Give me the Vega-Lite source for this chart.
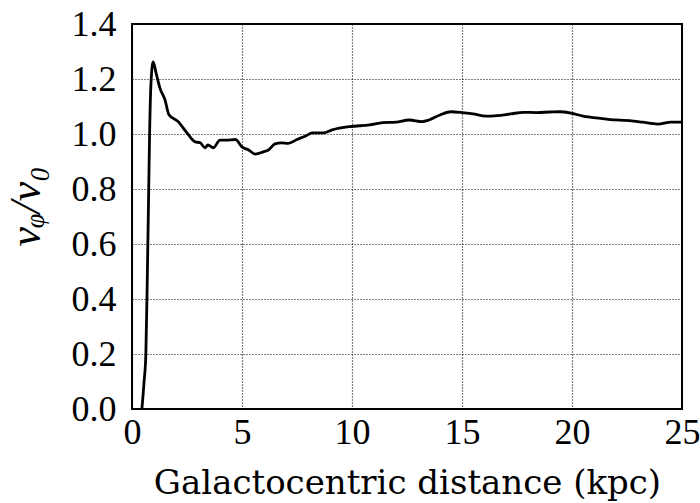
{
  "$schema": "https://vega.github.io/schema/vega-lite/v6.json",
  "width": 550,
  "height": 385,
  "autosize": {"type": "none"},
  "padding": {"left": 132, "top": 24, "right": 18, "bottom": 94},
  "background": "white",
  "config": {
    "view": {"stroke": "black", "strokeWidth": 2},
    "font": "Liberation Serif"
  },
  "data": {
    "values": [
      {"r": 0.45, "v": 0.0},
      {"r": 0.55, "v": 0.1},
      {"r": 0.63, "v": 0.2},
      {"r": 0.7, "v": 0.5},
      {"r": 0.76, "v": 0.8},
      {"r": 0.8, "v": 1.0},
      {"r": 0.86, "v": 1.18},
      {"r": 0.96, "v": 1.262},
      {"r": 1.1, "v": 1.22},
      {"r": 1.27, "v": 1.167},
      {"r": 1.5, "v": 1.124},
      {"r": 1.68, "v": 1.07},
      {"r": 2.1, "v": 1.045},
      {"r": 2.5, "v": 1.004},
      {"r": 2.86, "v": 0.972},
      {"r": 3.1, "v": 0.968},
      {"r": 3.32, "v": 0.95},
      {"r": 3.45, "v": 0.96},
      {"r": 3.7, "v": 0.95},
      {"r": 4.0, "v": 0.978},
      {"r": 4.3, "v": 0.978},
      {"r": 4.7, "v": 0.98},
      {"r": 5.0, "v": 0.953},
      {"r": 5.3, "v": 0.942},
      {"r": 5.6, "v": 0.927},
      {"r": 5.97, "v": 0.935},
      {"r": 6.2, "v": 0.942},
      {"r": 6.5, "v": 0.964},
      {"r": 6.8, "v": 0.968},
      {"r": 7.1, "v": 0.966},
      {"r": 7.5, "v": 0.98},
      {"r": 7.9, "v": 0.993},
      {"r": 8.2, "v": 1.004},
      {"r": 8.7, "v": 1.004},
      {"r": 9.1, "v": 1.015},
      {"r": 9.9, "v": 1.027},
      {"r": 10.8, "v": 1.033},
      {"r": 11.4, "v": 1.041},
      {"r": 12.0, "v": 1.043},
      {"r": 12.6, "v": 1.051},
      {"r": 13.2, "v": 1.045},
      {"r": 13.5, "v": 1.051},
      {"r": 14.0, "v": 1.069},
      {"r": 14.5, "v": 1.081},
      {"r": 15.0, "v": 1.078},
      {"r": 15.5, "v": 1.073},
      {"r": 16.1, "v": 1.065},
      {"r": 16.6, "v": 1.067},
      {"r": 17.2, "v": 1.073},
      {"r": 17.8, "v": 1.079},
      {"r": 18.4, "v": 1.078},
      {"r": 19.0, "v": 1.08},
      {"r": 19.45, "v": 1.081},
      {"r": 20.0, "v": 1.075},
      {"r": 20.5, "v": 1.065},
      {"r": 21.3, "v": 1.057},
      {"r": 22.0, "v": 1.051},
      {"r": 22.8, "v": 1.047},
      {"r": 23.2, "v": 1.043},
      {"r": 23.9, "v": 1.036},
      {"r": 24.5, "v": 1.043},
      {"r": 25.0, "v": 1.043}
    ]
  },
  "mark": {"type": "line", "color": "black", "strokeWidth": 2.8, "interpolate": "monotone", "clip": true},
  "encoding": {
    "x": {
      "field": "r", "type": "quantitative",
      "scale": {"domain": [0, 25], "nice": false, "zero": false},
      "axis": {
        "values": [0, 5, 10, 15, 20, 25],
        "title": "Galactocentric distance (kpc)",
        "titleFont": "DejaVu Serif", "titleFontSize": 34, "titleFontWeight": "normal",
        "titleColor": "black", "titlePadding": 16,
        "labelFont": "Liberation Serif", "labelFontSize": 36, "labelColor": "black",
        "labelPadding": 6, "labelFlush": false,
        "domain": false, "ticks": false,
        "grid": true, "gridColor": "black", "gridDash": [1, 2], "gridWidth": 1.2, "gridOpacity": 1
      }
    },
    "y": {
      "field": "v", "type": "quantitative",
      "scale": {"domain": [0, 1.4], "nice": false},
      "axis": {
        "values": [0, 0.2, 0.4, 0.6, 0.8, 1.0, 1.2, 1.4],
        "format": ".1f",
        "title": "vᵩ/v₀",
        "titleFont": "Liberation Serif", "titleFontStyle": "italic", "titleFontSize": 44, "titleFontWeight": "normal",
        "titleColor": "black", "titleX": -106, "titleY": 182, "titleAngle": 270,
        "titleAlign": "center", "titleBaseline": "middle",
        "labelFont": "Liberation Serif", "labelFontSize": 36, "labelColor": "black",
        "labelPadding": 16, "labelFlush": false,
        "domain": false, "ticks": false,
        "grid": true, "gridColor": "black", "gridDash": [1, 2], "gridWidth": 1.2, "gridOpacity": 1
      }
    }
  }
}
